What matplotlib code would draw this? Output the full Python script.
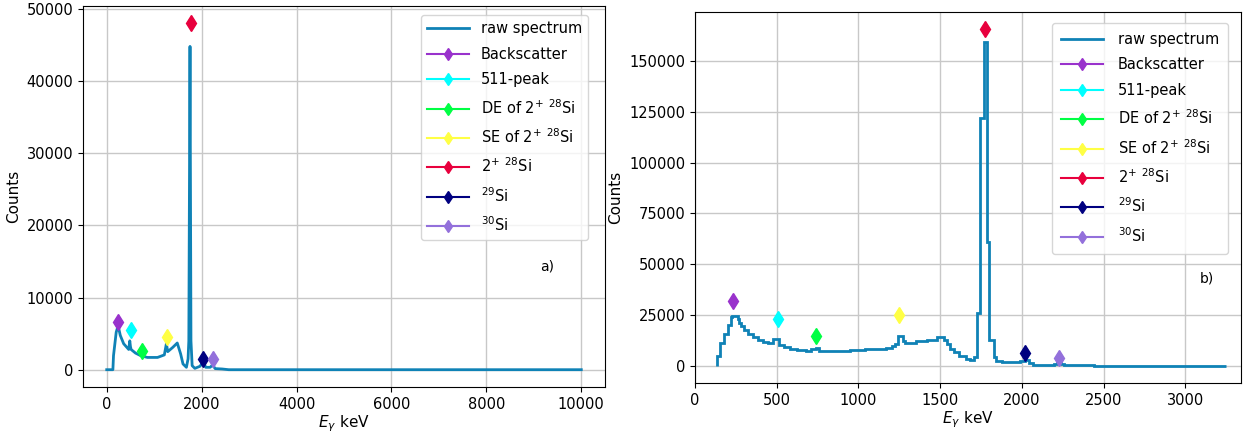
import numpy as np
import matplotlib.pyplot as plt
from matplotlib.ticker import MultipleLocator

# panel a): raw spectrum (keV, counts)
a_energy = [0, 130, 143, 200, 240, 286, 357, 464, 486, 500, 514, 607, 714, 857,
            1071, 1214, 1257, 1286, 1393, 1486, 1557, 1607, 1679, 1714, 1730,
            1755, 1775, 1800, 1857, 1964, 2036, 2086, 2179, 2229, 2286, 2429,
            2571, 10000]
a_counts = [0, 0, 1950, 5200, 6100, 4750, 3600, 2800, 4000, 3200, 2800, 2300,
            1950, 1700, 1700, 2050, 3600, 2500, 3100, 3700, 2200, 800, 330,
            1500, 4000, 44800, 4000, 560, 190, 470, 1100, 330, 330, 650, 150,
            100, 0, 0]

# panel b): binned spectrum (bin edges in keV, counts per bin)
b_edges = [135, 150, 177, 202, 219, 229, 262, 270, 283, 302, 323, 354, 385, 417,
           448, 475, 512, 542, 583, 625, 677, 708, 740, 760, 950, 1042, 1125,
           1167, 1208, 1225, 1240, 1273, 1283, 1354, 1417, 1479, 1521, 1542,
           1562, 1583, 1615, 1656, 1683, 1708, 1722, 1742, 1766, 1789, 1801,
           1829, 1844, 1875, 1958, 1990, 2021, 2042, 2069, 2195, 2215, 2240,
           2260, 2300, 2440, 3250]
b_counts = [5100, 11500, 15800, 20200, 23900, 24700, 23100, 21000, 19500, 17500,
            16000, 14300, 13000, 12000, 11200, 13400, 10500, 9200, 8600, 8000,
            7600, 8300, 9000, 7600, 7700, 8200, 8600, 9100, 9900, 10700, 14600,
            12300, 11500, 12300, 13000, 14200, 12700, 10700, 8300, 6700, 5100,
            3500, 3000, 4300, 26000, 122000, 159500, 61000, 12600, 4300, 2700,
            1900, 1800, 2400, 3200, 1600, 600, 900, 1600, 800, 300, 500, 0]

# marked lines
labels = ['Backscatter', '511-peak', r'DE of $2^{+}$ $^{28}$Si',
          r'SE of $2^{+}$ $^{28}$Si', r'$2^{+}$ $^{28}$Si', r'$^{29}$Si', r'$^{30}$Si']
colors = ['#9932cc', '#00ffff', '#00ff44', '#ffff44', '#e8003d', '#000080', '#9370db']
a_mark_x = [240, 514, 740, 1262, 1768, 2036, 2236]
a_mark_y = [6600, 5500, 2550, 4500, 48000, 1500, 1450]
b_mark_x = [234, 510, 743, 1249, 1772, 2017, 2226]
b_mark_y = [32000, 23300, 15000, 25200, 165700, 6500, 4100]

line_c = '#0f82b6'

fig = plt.figure(figsize=(12.48, 4.38), dpi=100)
ax1 = fig.add_axes([0.0665, 0.1164, 0.4183, 0.8699])
ax2 = fig.add_axes([0.5569, 0.1256, 0.4375, 0.847])

ax1.plot(a_energy, a_counts, color=line_c, lw=2, label='raw spectrum')
ax2.stairs(b_counts, b_edges, color=line_c, lw=2, label='raw spectrum', zorder=2)

for ax, mx, my in [(ax1, a_mark_x, a_mark_y), (ax2, b_mark_x, b_mark_y)]:
    for x, y, lab, c in zip(mx, my, labels, colors):
        ax.plot([x], [y], marker='d', ms=8, color=c, label=lab)
    ax.grid(True, color='#c8c8c8', lw=1)
    ax.set_xlabel(r'$E_\gamma$ keV', fontsize=11, labelpad=1)
    ax.set_ylabel('Counts', fontsize=11)
    ax.tick_params(labelsize=10.5)

ax2.set_xlim(0, 3340)
ax2.set_ylim(-8300, 174000)
ax2.yaxis.set_major_locator(MultipleLocator(25000))

ax1.legend(loc='upper right', bbox_to_anchor=(0.981, 0.995), fontsize=10.5,
           labelspacing=0.73, handlelength=2.9, markerscale=0.75)
ax2.legend(loc='upper right', bbox_to_anchor=(0.989, 0.99), fontsize=10.5,
           labelspacing=0.73, handlelength=2.9, markerscale=0.75, borderpad=0.6,
           handletextpad=1.0)

ax1.text(0.875, 0.307, 'a)', transform=ax1.transAxes, fontsize=10)
ax2.text(0.925, 0.27, 'b)', transform=ax2.transAxes, fontsize=10)

fig.savefig('out.png', dpi=100)
